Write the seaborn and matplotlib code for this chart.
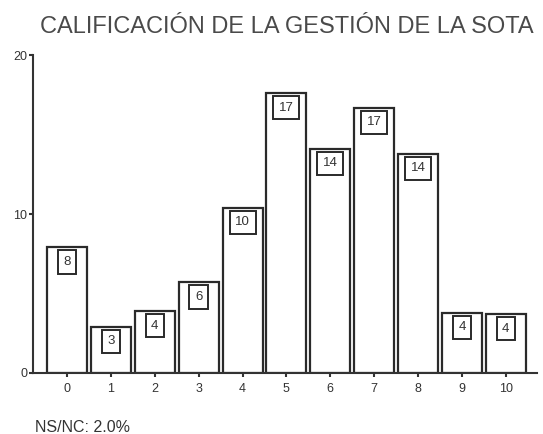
import matplotlib
matplotlib.use("Agg")
import matplotlib.pyplot as plt
import seaborn as sns
import pandas as pd

categories = ["0", "1", "2", "3", "4", "5", "6", "7", "8", "9", "10"]
values = [7.9, 2.9, 3.9, 5.7, 10.4, 17.6, 14.1, 16.7, 13.8, 3.8, 3.7]
labels = ["8", "3", "4", "6", "10", "17", "14", "17", "14", "4", "4"]
y_ticks = [0, 10, 20]
title = "CALIFICACIÓN DE LA GESTIÓN DE LA SOTA"
footnote = "NS/NC: 2.0%"

sns.set_style("ticks")
plt.rcParams["font.family"] = ["Liberation Sans", "DejaVu Sans"]

df = pd.DataFrame({"cat": categories, "val": values})

fig = plt.figure(figsize=(5.43, 4.34), dpi=100)
ax = fig.add_axes([0.0608, 0.1406, 0.9282, 0.7324])

sns.barplot(data=df, x="cat", y="val", order=categories, color="white",
            edgecolor="#2a2a2a", linewidth=1.6, width=0.91, ax=ax)

for i, (v, lab) in enumerate(zip(values, labels)):
    ax.annotate(lab, xy=(i, v), xytext=(0, -10.5), textcoords="offset points",
                ha="center", va="center", fontsize=9.5, color="#333333",
                bbox=dict(boxstyle="square,pad=0.42", fc="white", ec="#2a2a2a", lw=1.4))

ax.set_xlim(-0.774, 10.71)
ax.set_ylim(0, 20)
ax.set_yticks(y_ticks)
ax.set_xlabel("")
ax.set_ylabel("")
sns.despine(ax=ax)
for s in ["left", "bottom"]:
    ax.spines[s].set_linewidth(1.5)
    ax.spines[s].set_color("#333333")
ax.tick_params(axis="both", length=3, width=1.5, colors="#333333", labelsize=9,
               labelcolor="#333333")
ax.tick_params(axis="x", pad=4)
ax.tick_params(axis="y", pad=1)

fig.text(0.529, 0.937, title, ha="center", va="center", fontsize=17, color="#4a4a4a")
fig.text(0.064, 0.016, footnote, ha="left", va="center", fontsize=11.5, color="#333333")

fig.savefig("out.png", dpi=100, facecolor="white")
